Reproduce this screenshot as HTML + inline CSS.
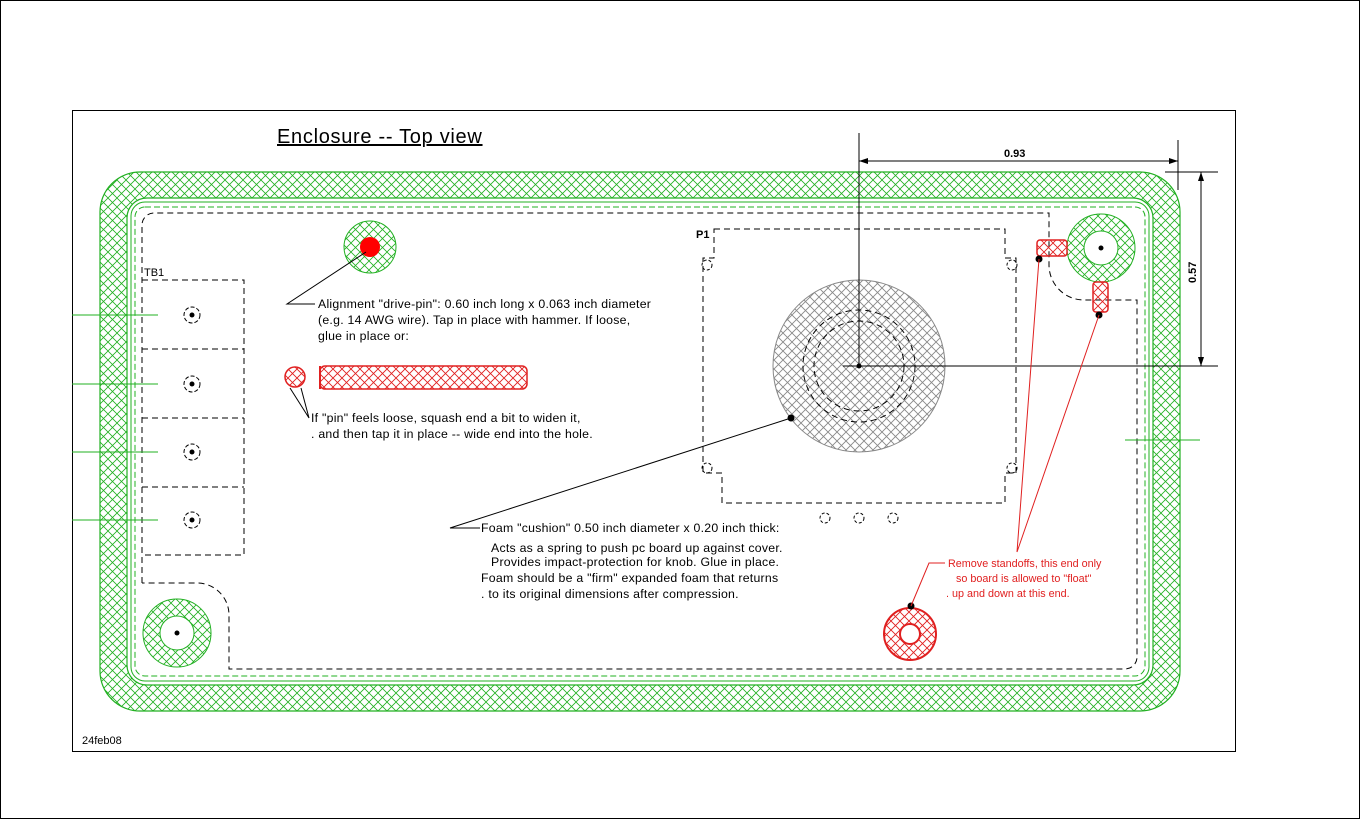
<!DOCTYPE html>
<html><head><meta charset="utf-8"><style>
html,body{margin:0;padding:0;background:#fff}
svg{display:block}
text{font-family:"Liberation Sans",sans-serif}
.t{font-size:12.3px;letter-spacing:0.25px}
.r{font-size:10.8px;fill:#e02020}
</style></head><body>
<svg width="1360" height="819" viewBox="0 0 1360 819" xmlns="http://www.w3.org/2000/svg">
<defs>
<pattern id="gh" width="9" height="9" patternUnits="userSpaceOnUse">
<path d="M0,0L9,9M9,0L0,9" stroke="#22b022" stroke-width="0.8"/>
</pattern>
<pattern id="rh" width="9" height="9" patternUnits="userSpaceOnUse">
<path d="M0,0L9,9M9,0L0,9" stroke="#e02020" stroke-width="0.9"/>
</pattern>
<pattern id="kh" width="9" height="9" patternUnits="userSpaceOnUse">
<rect width="9" height="9" fill="#fff"/>
<path d="M0,0L9,9M9,0L0,9" stroke="#888" stroke-width="0.9"/>
</pattern>
</defs>
<rect x="0.5" y="0.5" width="1359" height="818" fill="#fff" stroke="#000"/>
<rect x="72.5" y="110.5" width="1163" height="641" fill="#fff" stroke="#000"/>

<path fill-rule="evenodd" fill="url(#gh)" stroke="#22b022" stroke-width="1.2"
d="M140,172 H1140 A40,40 0 0 1 1180,212 V671 A40,40 0 0 1 1140,711 H140 A40,40 0 0 1 100,671 V212 A40,40 0 0 1 140,172 Z
M147,198 H1133 A20,20 0 0 1 1153,218 V665 A20,20 0 0 1 1133,685 H147 A20,20 0 0 1 127,665 V218 A20,20 0 0 1 147,198 Z"/>
<rect x="131" y="202" width="1018" height="479" rx="14" fill="none" stroke="#22b022" stroke-width="1"/>
<rect x="135" y="207" width="1010" height="469" rx="10" fill="none" stroke="#22b022" stroke-width="1" stroke-dasharray="6,3"/>

<path fill="none" stroke="#000" stroke-dasharray="6,4" stroke-width="1"
d="M142,583 V225 A12,12 0 0 1 154,213 H1049 V265 A35,35 0 0 0 1084,300 H1137 V656 A12,12 0 0 1 1125,669 H229 V615 A32,32 0 0 0 197,583 H142"/>

<text x="144" y="276" style="font-size:11px">TB1</text>
<path d="M142,280 H244 V555 H142 M142,349 H244 M142,418 H244 M142,487 H244" fill="none" stroke="#000" stroke-dasharray="6,4"/>
<g stroke="#000" fill="none" stroke-dasharray="4,2"><circle cx="192" cy="315" r="8"/><circle cx="192" cy="384" r="8"/><circle cx="192" cy="452" r="8"/><circle cx="192" cy="520" r="8"/></g>
<g fill="#000"><circle cx="192" cy="315" r="2.5"/><circle cx="192" cy="384" r="2.5"/><circle cx="192" cy="452" r="2.5"/><circle cx="192" cy="520" r="2.5"/></g>
<path d="M72,315H158M72,384H158M72,452H158M72,520H158M1125,440H1200" stroke="#22b022"/>

<circle cx="177" cy="633" r="34" fill="url(#gh)" stroke="#22b022"/>
<circle cx="177" cy="633" r="17" fill="#fff" stroke="#22b022"/>
<circle cx="177" cy="633" r="2.5"/>
<circle cx="1101" cy="248" r="34" fill="url(#gh)" stroke="#22b022"/>
<circle cx="1101" cy="248" r="17" fill="#fff" stroke="#22b022"/>
<circle cx="1101" cy="248" r="2.5"/>

<circle cx="370" cy="247" r="26" fill="url(#gh)" stroke="#22b022"/>
<circle cx="370" cy="247" r="10" fill="#f00"/>
<path d="M366,252 L287,304 H315" stroke="#000" fill="none"/>
<text class="t" x="318" y="308">Alignment "drive-pin": 0.60 inch long x 0.063 inch diameter</text>
<text class="t" x="318" y="324">(e.g. 14 AWG wire). Tap in place with hammer. If loose,</text>
<text class="t" x="318" y="340">glue in place or:</text>

<circle cx="295" cy="377" r="10" fill="url(#rh)" stroke="#e02020" stroke-width="1.5"/>
<rect x="320" y="366" width="207" height="23" rx="5" fill="url(#rh)" stroke="#e02020" stroke-width="1.5"/>
<line x1="320" y1="366" x2="320" y2="389" stroke="#e02020" stroke-width="2"/>
<path d="M290,388 L309,418 L301,388" stroke="#000" fill="none"/>
<text class="t" x="311" y="422">If "pin" feels loose, squash end a bit to widen it,</text>
<text class="t" x="311" y="438">. and then tap it in place -- wide end into the hole.</text>

<text x="696" y="238" style="font-size:11px;font-weight:bold">P1</text>
<path fill="none" stroke="#000" stroke-dasharray="6,4"
d="M714,229 H1005 V258 H1016 V473 H1005 V503 H722 V473 H703 V258 H714 Z"/>
<g fill="none" stroke="#000" stroke-dasharray="3,2">
<circle cx="707" cy="265" r="5"/><circle cx="1012" cy="265" r="5"/>
<circle cx="707" cy="468" r="5"/><circle cx="1012" cy="468" r="5"/>
<circle cx="825" cy="518" r="5"/><circle cx="859" cy="518" r="5"/><circle cx="893" cy="518" r="5"/>
</g>
<circle cx="859" cy="366" r="86" fill="url(#kh)" stroke="#888"/>
<circle cx="859" cy="366" r="56" fill="none" stroke="#000" stroke-dasharray="6,4"/>
<circle cx="859" cy="366" r="45" fill="none" stroke="#000" stroke-dasharray="6,4"/>
<path d="M859,133 V366 M843,366 H1218" stroke="#000"/>
<circle cx="859" cy="366" r="2.5"/>
<circle cx="791" cy="418" r="3.5"/>
<path d="M791,418 L450,528 H480" stroke="#000" fill="none"/>
<text class="t" x="481" y="532">Foam "cushion" 0.50 inch diameter x 0.20 inch thick:</text>
<text class="t" x="491" y="552">Acts as a spring to push pc board up against cover.</text>
<text class="t" x="491" y="566">Provides impact-protection for knob. Glue in place.</text>
<text class="t" x="481" y="582">Foam should be a "firm" expanded foam that returns</text>
<text class="t" x="481" y="598">.  to its original dimensions after compression.</text>

<path d="M859,161 H1178 M1178,140 V190 M1165,172 H1218 M1201,172 V366" stroke="#000" fill="none"/>
<path d="M1178,161 l-9,-3 v6 z M859,161 l9,-3 v6 z M1201,172 l-3,9 h6 z M1201,366 l-3,-9 h6 z" fill="#000"/>
<text x="1004" y="157" style="font-size:11px;font-weight:bold">0.93</text>
<text x="0" y="0" style="font-size:11px;font-weight:bold" transform="translate(1196,283) rotate(-90)">0.57</text>

<rect x="1037" y="240" width="30" height="16" rx="3" fill="url(#rh)" stroke="#e02020" stroke-width="1.5"/>
<rect x="1093" y="282" width="15" height="30" rx="3" fill="url(#rh)" stroke="#e02020" stroke-width="1.5"/>
<circle cx="1039" cy="259" r="3.5"/>
<circle cx="1099" cy="315" r="3.5"/>
<path d="M1039,259 L1017,552 L1099,315" stroke="#e02020" fill="none"/>
<circle cx="910" cy="634" r="26" fill="url(#rh)" stroke="#e02020" stroke-width="2"/>
<circle cx="910" cy="634" r="10" fill="#fff" stroke="#e02020" stroke-width="2"/>
<circle cx="911" cy="606" r="3.5"/>
<path d="M911,606 L929,563 H945" stroke="#e02020" fill="none"/>
<text class="r" x="948" y="567">Remove standoffs, this end only</text>
<text class="r" x="956" y="582">so board is allowed to "float"</text>
<text class="r" x="946" y="597">. up and down at this end.</text>

<text x="277" y="143" style="font-size:20px;letter-spacing:0.7px" text-decoration="underline">Enclosure -- Top view</text>
<text x="82" y="744" style="font-size:11px">24feb08</text>
</svg>
</body></html>
